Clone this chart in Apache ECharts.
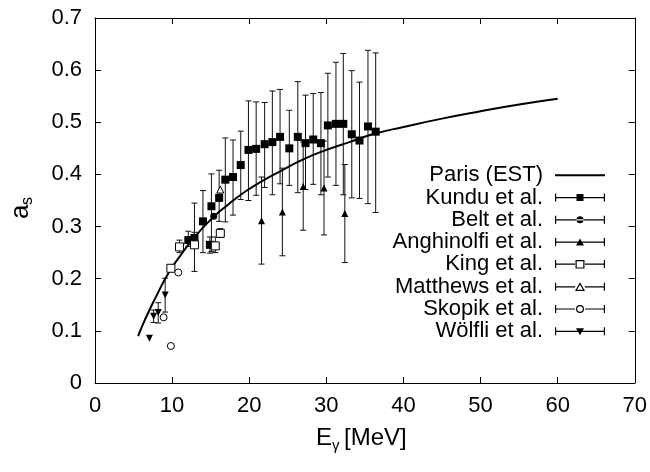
<!DOCTYPE html>
<html>
<head>
<meta charset="utf-8">
<script src="https://cdn.jsdelivr.net/npm/echarts@6/dist/echarts.min.js"></script>
<style>
  html, body { margin: 0; padding: 0; background: #fff; }
  #chart { width: 650px; height: 472px; }
</style>
</head>
<body>
<div id="chart"></div>
<script>
// Paris (EST) curve
const parisX = [5.6, 6, 7, 8, 9, 10, 11, 12, 13, 14, 15, 16, 17, 18, 19, 20, 22, 24, 27, 30, 33, 36, 40, 45, 50, 55, 60]
const parisY = [0.09, 0.105, 0.138, 0.168, 0.197, 0.222, 0.243, 0.263, 0.281, 0.298, 0.313, 0.327, 0.339, 0.351, 0.362, 0.372, 0.39, 0.406, 0.429, 0.447, 0.462, 0.477, 0.491, 0.507, 0.521, 0.534, 0.545]

// Kundu et al.
const kunduX = [12.1, 12.9, 14.0, 14.9, 15.1, 16.1, 16.9, 17.9, 18.9, 19.9, 20.9, 22.0, 23.0, 24.0, 25.2, 26.3, 27.3, 28.3, 29.3, 30.2, 31.25, 32.2, 33.3, 34.3, 35.4, 36.4]
const kunduY = [0.274, 0.278, 0.31, 0.265, 0.339, 0.355, 0.39, 0.395, 0.418, 0.447, 0.449, 0.458, 0.462, 0.472, 0.45, 0.472, 0.46, 0.467, 0.46, 0.494, 0.497, 0.497, 0.477, 0.465, 0.492, 0.482]
const kunduHi = [0.291, 0.289, 0.369, 0.28, 0.401, 0.408, 0.47, 0.466, 0.483, 0.541, 0.539, 0.538, 0.56, 0.563, 0.523, 0.578, 0.552, 0.555, 0.557, 0.594, 0.615, 0.632, 0.599, 0.577, 0.638, 0.633]
const kunduLo = [0.262, 0.262, 0.25, 0.249, 0.252, 0.31, 0.309, 0.322, 0.352, 0.35, 0.36, 0.375, 0.361, 0.382, 0.379, 0.365, 0.371, 0.381, 0.361, 0.395, 0.379, 0.361, 0.355, 0.354, 0.344, 0.327]

// Belt et al.
const beltX = [15.4]
const beltY = [0.32]

// Anghinolfi et al.
const anghX = [21.6, 24.3, 27.0, 29.7, 32.4]
const anghY = [0.311, 0.328, 0.377, 0.374, 0.325]
const anghHi = [0.395, 0.412, 0.462, 0.464, 0.419]
const anghLo = [0.228, 0.244, 0.293, 0.284, 0.231]

// King et al.
const kingX = [9.84, 10.96, 12.9, 15.6, 16.25]
const kingY = [0.22, 0.261, 0.265, 0.263, 0.287]
const kingHi = [0.22, 0.274, 0.345, 0.28, 0.296]
const kingLo = [0.22, 0.25, 0.214, 0.25, 0.279]

// Matthews et al.
const matX = [16.25]
const matY = [0.371]

// Skopik et al.
const skoX = [8.9, 9.84, 10.8]
const skoY = [0.126, 0.071, 0.212]

// Wölfli et al.
const wolX = [7.06, 7.6, 8.2, 9.1]
const wolY = [0.086, 0.128, 0.135, 0.169]
const wolHi = [0.086, 0.14, 0.154, 0.201]
const wolLo = [0.086, 0.116, 0.115, 0.136]

const xTicks = { min: 0, max: 70, interval: 10 }
const yTicks = { min: 0, max: 0.7, interval: 0.1 }

const FONT = 'Liberation Sans'
const pts = (xs, ys) => xs.map((x, i) => [x, ys[i]])
const bars = (xs, lo, hi) => xs.map((x, i) => [x, lo[i], hi[i]])

const renderBar = (params, api) => {
  const x = api.value(0)
  const lo = api.value(1)
  const hi = api.value(2)
  if (lo === hi) return null
  const t = api.coord([x, hi])
  const b = api.coord([x, lo])
  const w = 3
  const st = { stroke: '#111', lineWidth: 1 }
  return {
    type: 'group',
    children: [
      { type: 'line', shape: { x1: t[0], y1: t[1], x2: b[0], y2: b[1] }, style: st },
      { type: 'line', shape: { x1: t[0] - w, y1: t[1], x2: t[0] + w, y2: t[1] }, style: st },
      { type: 'line', shape: { x1: b[0] - w, y1: b[1], x2: b[0] + w, y2: b[1] }, style: st },
    ],
  }
}

// legend icons, 50 x 11 units
const fullLine = 'M0,5 h50 v1.2 h-50 z M0,1.5 h1.2 v8 h-1.2 z M48.8,1.5 h1.2 v8 h-1.2 z '
const splitLine = 'M0,5 h20 v1.2 h-20 z M30,5 h20 v1.2 h-20 z M0,1.5 h1.2 v8 h-1.2 z M48.8,1.5 h1.2 v8 h-1.2 z '
const icons = {
  paris: 'path://M0,0 h50 v2 h-50 z',
  kundu: 'path://' + fullLine + 'M21.5,2 h7 v7 h-7 z',
  belt: 'path://' + fullLine + 'M21.5,5.6 a3.5,3.5 0 1,0 7,0 a3.5,3.5 0 1,0 -7,0 z',
  angh: 'path://' + fullLine + 'M25,2 L29,9 L21,9 z',
  king: 'path://' + splitLine + 'M20.5,1.5 h9 v8.5 h-9 z M21.7,2.7 v6.1 h6.6 v-6.1 z',
  mat: 'path://' + splitLine + 'M25,1 L30,9.8 L20,9.8 z M25,3.4 L22,8.6 L28,8.6 z',
  sko: 'path://' + splitLine + 'M21,5.6 a4,4 0 1,1 8,0 a4,4 0 1,1 -8,0 z M22.2,5.6 a2.8,2.8 0 1,0 5.6,0 a2.8,2.8 0 1,0 -5.6,0 z',
  wol: 'path://' + fullLine + 'M21,2.5 L29,2.5 L25,9.5 z',
}

const chart = echarts.init(document.getElementById('chart'), null, { renderer: 'canvas' })

const mkX = (pos, show) => ({
  type: 'value', position: pos, ...xTicks,
  axisLine: { onZero: false, lineStyle: { color: '#000', width: 1 } },
  axisTick: { inside: true, length: 6, lineStyle: { color: '#000' } },
  axisLabel: { show: show, color: '#000', fontSize: 22, fontFamily: FONT, margin: 12 },
  splitLine: { show: false },
})
const mkY = (pos, show) => ({
  type: 'value', position: pos, ...yTicks,
  axisLine: { onZero: false, lineStyle: { color: '#000', width: 1 } },
  axisTick: { inside: true, length: 6, lineStyle: { color: '#000' } },
  axisLabel: { show: show, color: '#000', fontSize: 22, fontFamily: FONT, margin: 13, formatter: (v) => (v === 0 ? '0' : v.toFixed(1)) },
  splitLine: { show: false },
})

const scatter = (name, data, symbol, size, open) => ({
  name, type: 'scatter', data, symbol, symbolSize: size, z: 5,
  itemStyle: open ? { color: '#fff', borderColor: '#000', borderWidth: 1, opacity: 1 } : { color: '#000', opacity: 1 },
})
const errs = (name, data) => ({
  name, type: 'custom', data, renderItem: renderBar, z: 3,
  encode: { x: 0, y: [1, 2] },
})

chart.setOption({
  animation: false,
  backgroundColor: '#fff',
  textStyle: { fontFamily: FONT },
  grid: { left: 95, right: 14, top: 18, bottom: 89 },
  xAxis: [mkX('bottom', true), mkX('top', false)],
  yAxis: [mkY('left', true), mkY('right', false)],
  legend: {
    orient: 'vertical',
    right: 40,
    top: 159,
    align: 'right',
    itemWidth: 50,
    itemHeight: 11,
    itemGap: 0,
    selectedMode: false,
    itemStyle: { color: '#000', borderWidth: 0 },
    textStyle: { color: '#000', fontSize: 22, fontFamily: FONT, lineHeight: 22.3, padding: [0, 7, 0, 0] },
    data: [
      { name: 'Paris (EST)', icon: icons.paris },
      { name: 'Kundu et al.', icon: icons.kundu },
      { name: 'Belt et al.', icon: icons.belt },
      { name: 'Anghinolfi et al.', icon: icons.angh },
      { name: 'King et al.', icon: icons.king },
      { name: 'Matthews et al.', icon: icons.mat },
      { name: 'Skopik et al.', icon: icons.sko },
      { name: 'Wölfli et al.', icon: icons.wol },
    ],
  },
  graphic: [
    {
      type: 'group', x: 316, y: 426,
      children: [
        { type: 'text', x: 0, y: 0, style: { text: 'E', font: '24px "Liberation Sans"', fill: '#000' } },
        { type: 'text', x: 16, y: 12, style: { text: 'γ', font: '15px "Liberation Sans"', fill: '#000' } },
        { type: 'text', x: 28, y: 0, style: { text: '[MeV]', font: '24px "Liberation Sans"', fill: '#000' } },
      ],
    },
    {
      type: 'group', x: 8, y: 219, rotation: Math.PI / 2,
      children: [
        { type: 'text', x: 0, y: 0, style: { text: 'a', font: '26px "Liberation Sans"', fill: '#000' } },
        { type: 'text', x: 14, y: 12, style: { text: 's', font: '16px "Liberation Sans"', fill: '#000' } },
      ],
    },
  ],
  series: [
    {
      name: 'Paris (EST)', type: 'line', data: pts(parisX, parisY), smooth: true,
      showSymbol: false, lineStyle: { color: '#000', width: 2 }, itemStyle: { color: '#000' }, z: 4,
    },
    errs('Kundu et al.', bars(kunduX, kunduLo, kunduHi)),
    scatter('Kundu et al.', pts(kunduX, kunduY), 'rect', 8, false),
    scatter('Belt et al.', pts(beltX, beltY), 'circle', 7, false),
    errs('Anghinolfi et al.', bars(anghX, anghLo, anghHi)),
    scatter('Anghinolfi et al.', pts(anghX, anghY), 'triangle', 7, false),
    errs('King et al.', bars(kingX, kingLo, kingHi)),
    scatter('King et al.', pts(kingX, kingY), 'rect', 8, true),
    scatter('Matthews et al.', pts(matX, matY), 'triangle', 7, true),
    scatter('Skopik et al.', pts(skoX, skoY), 'circle', 7, true),
    errs('Wölfli et al.', bars(wolX, wolLo, wolHi)),
    scatter('Wölfli et al.', pts(wolX, wolY), 'path://M0,0 L10,0 L5,9 z', 7, false),
  ],
})

window.addEventListener('resize', () => chart.resize())
</script>
</body>
</html>
